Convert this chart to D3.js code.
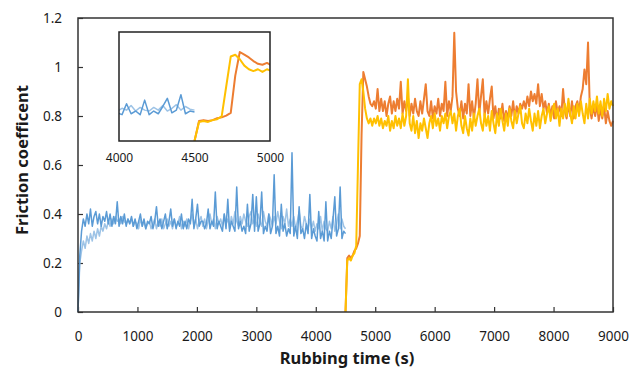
<!DOCTYPE html>
<html>
<head>
<meta charset="utf-8">
<script src="https://cdn.jsdelivr.net/npm/d3@7"></script>
<style>
  body { margin: 0; background: #fff; }
  svg text { font-family: "Noto Sans", "Open Sans", sans-serif; fill: #1a1a1a; }
</style>
</head>
<body>
<div id="chart"></div>
<script>
// sampling: one reading every 30 s
const step = 30;
const xTicks = [0, 1000, 2000, 3000, 4000, 5000, 6000, 7000, 8000, 9000];
const yTicks = [0, 0.2, 0.4, 0.6, 0.8, 1, 1.2];
const insetTicks = [4000, 4500, 5000];

// first test, 0 - 4500 s
const blueDark = [
  0, 0.23, 0.33, 0.38, 0.35, 0.40, 0.36, 0.42, 0.35, 0.39,
  0.41, 0.36, 0.40, 0.35, 0.39, 0.37, 0.41, 0.36, 0.40, 0.35,
  0.39, 0.36, 0.45, 0.35, 0.39, 0.36, 0.40, 0.35, 0.38, 0.36,
  0.39, 0.35, 0.38, 0.34, 0.37, 0.40, 0.35, 0.38, 0.34, 0.37,
  0.36, 0.39, 0.34, 0.37, 0.43, 0.35, 0.38, 0.34, 0.37, 0.40,
  0.34, 0.37, 0.42, 0.35, 0.38, 0.34, 0.37, 0.35, 0.40, 0.34,
  0.37, 0.34, 0.38, 0.36, 0.46, 0.34, 0.38, 0.44, 0.35, 0.37,
  0.37, 0.34, 0.36, 0.42, 0.34, 0.37, 0.35, 0.49, 0.34, 0.37,
  0.35, 0.33, 0.40, 0.34, 0.46, 0.33, 0.37, 0.35, 0.33, 0.51,
  0.34, 0.37, 0.33, 0.35, 0.32, 0.44, 0.33, 0.36, 0.48, 0.33,
  0.47, 0.33, 0.36, 0.49, 0.32, 0.35, 0.33, 0.40, 0.32, 0.35,
  0.56, 0.32, 0.35, 0.31, 0.44, 0.33, 0.36, 0.31, 0.34, 0.32,
  0.65, 0.31, 0.35, 0.30, 0.43, 0.32, 0.34, 0.30, 0.36, 0.32,
  0.48, 0.30, 0.34, 0.31, 0.29, 0.41, 0.30, 0.33, 0.29, 0.45,
  0.29, 0.33, 0.30, 0.38, 0.47, 0.31, 0.34, 0.51, 0.30, 0.33,
  0.32
];
const blueLight = [
  0, 0.20, 0.25, 0.29, 0.26, 0.31, 0.28, 0.32, 0.29, 0.33,
  0.30, 0.34, 0.31, 0.35, 0.33, 0.36, 0.34, 0.37, 0.35, 0.38,
  0.36, 0.39, 0.37, 0.38, 0.36, 0.39, 0.37, 0.36, 0.38, 0.36,
  0.38, 0.35, 0.37, 0.36, 0.34, 0.38, 0.35, 0.37, 0.34, 0.36,
  0.37, 0.34, 0.36, 0.38, 0.34, 0.37, 0.35, 0.38, 0.34, 0.36,
  0.38, 0.35, 0.37, 0.34, 0.38, 0.35, 0.36, 0.39, 0.34, 0.37,
  0.35, 0.38, 0.34, 0.37, 0.40, 0.35, 0.38, 0.34, 0.37, 0.39,
  0.35, 0.38, 0.34, 0.37, 0.40, 0.36, 0.38, 0.34, 0.39, 0.36,
  0.38, 0.35, 0.40, 0.36, 0.38, 0.34, 0.39, 0.36, 0.41, 0.37,
  0.35, 0.39, 0.36, 0.40, 0.37, 0.35, 0.39, 0.41, 0.36, 0.38,
  0.35, 0.40, 0.37, 0.35, 0.41, 0.37, 0.35, 0.40, 0.38, 0.35,
  0.39, 0.36, 0.41, 0.37, 0.34, 0.39, 0.36, 0.42, 0.35, 0.38,
  0.35, 0.39, 0.34, 0.37, 0.41, 0.35, 0.34, 0.39, 0.36, 0.34,
  0.38, 0.34, 0.37, 0.33, 0.36, 0.34, 0.39, 0.33, 0.37, 0.34,
  0.33, 0.37, 0.34, 0.39, 0.33, 0.36, 0.40, 0.34, 0.38, 0.35,
  0.34
];

// second test, 4500 - 9000 s
const orange = [
  0, 0.22, 0.23, 0.22, 0.23, 0.25, 0.26, 0.28, 0.31, 0.72,
  0.98, 0.95, 0.92, 0.88, 0.85, 0.84, 0.86, 0.83, 0.91, 0.82,
  0.87, 0.82, 0.86, 0.80, 0.85, 0.88, 0.81, 0.86, 0.82, 0.87,
  0.83, 0.94, 0.81, 0.86, 0.82, 0.88, 0.80, 0.85, 0.81, 0.87,
  0.82, 0.80, 0.86, 0.81, 0.87, 0.93, 0.82, 0.80, 0.86, 0.79,
  0.84, 0.81, 0.87, 0.80, 0.85, 0.82, 0.94, 0.80, 0.86, 0.82,
  0.88, 1.14, 0.90, 0.83, 0.80, 0.86, 0.79, 0.85, 0.81, 0.93,
  0.80, 0.86, 0.79, 0.85, 0.95, 0.81, 0.88, 0.95, 0.80, 0.86,
  0.81, 0.87, 0.92, 0.79, 0.84, 0.78, 0.83, 0.79, 0.85, 0.78,
  0.82, 0.79, 0.84, 0.80, 0.86, 0.79, 0.84, 0.81, 0.85, 0.83,
  0.86, 0.83, 0.88, 0.84, 0.90, 0.86, 0.89, 0.85, 0.93, 0.84,
  0.89, 0.83, 0.86, 0.81, 0.85, 0.80, 0.84, 0.79, 0.86, 0.81,
  0.84, 0.80, 0.91, 0.82, 0.79, 0.85, 0.80, 0.86, 0.79, 0.84,
  0.86, 0.82, 0.88, 0.91, 0.99, 0.93, 1.10, 0.83, 0.79, 0.84,
  0.80, 0.85, 0.78, 0.83, 0.79, 0.84, 0.77, 0.82, 0.78, 0.76,
  0.78
];
const yellow = [
  0, 0.21, 0.22, 0.21, 0.23, 0.24, 0.27, 0.60, 0.93, 0.95,
  0.90, 0.83, 0.79, 0.77, 0.79, 0.76, 0.79, 0.77, 0.80, 0.76,
  0.79, 0.75, 0.78, 0.76, 0.80, 0.74, 0.78, 0.75, 0.80, 0.76,
  0.79, 0.75, 0.81, 0.76, 0.80, 0.95, 0.77, 0.74, 0.80, 0.73,
  0.78, 0.71, 0.77, 0.74, 0.79, 0.75, 0.71, 0.77, 0.80, 0.75,
  0.81, 0.76, 0.79, 0.74, 0.80, 0.77, 0.81, 0.75, 0.80, 0.82,
  0.77, 0.81, 0.74, 0.80, 0.83, 0.76, 0.73, 0.80, 0.75, 0.72,
  0.79, 0.74, 0.81, 0.76, 0.80, 0.83, 0.77, 0.74, 0.81, 0.76,
  0.80, 0.74, 0.82, 0.77, 0.73, 0.81, 0.76, 0.83, 0.78, 0.74,
  0.81, 0.76, 0.83, 0.78, 0.75, 0.82, 0.77, 0.81, 0.84, 0.77,
  0.75, 0.81, 0.77, 0.83, 0.78, 0.74, 0.81, 0.76, 0.82, 0.75,
  0.80, 0.83, 0.77, 0.81, 0.84, 0.78, 0.82, 0.85, 0.79, 0.83,
  0.76, 0.83, 0.79, 0.85, 0.80, 0.87, 0.81, 0.77, 0.84, 0.79,
  0.85, 0.80, 0.86, 0.81, 0.77, 0.85, 0.79, 0.87, 0.81, 0.86,
  0.82, 0.88, 0.81, 0.86, 0.80, 0.87, 0.82, 0.89, 0.83, 0.86,
  0.84
];

const series = [
  { name: "blueLight", start: 0, values: blueLight, color: "#9dc3e6", width: 1.5 },
  { name: "blueDark", start: 0, values: blueDark, color: "#5b9bd5", width: 1.5 },
  { name: "orange", start: 4500, values: orange, color: "#ed7d31", width: 2 },
  { name: "yellow", start: 4500, values: yellow, color: "#ffc000", width: 2 }
];
series.forEach(s => { s.points = s.values.map((v, i) => [s.start + i * step, v]); });

const W = 641, H = 373;
const svg = d3.select("#chart").append("svg").attr("width", W).attr("height", H);

const x = d3.scaleLinear().domain([0, 9000]).range([78, 613]);
const y = d3.scaleLinear().domain([0, 1.2]).range([312, 18]);

// axes with inside ticks
const xAxis = svg.append("g").attr("transform", "translate(0,312)")
  .call(d3.axisBottom(x).tickValues(xTicks).tickFormat(d3.format("d")).tickSize(-5).tickPadding(19));
const yAxis = svg.append("g").attr("transform", "translate(78,0)")
  .call(d3.axisLeft(y).tickValues(yTicks).tickFormat(d => d3.format("")(d)).tickSize(-5).tickPadding(16));
[xAxis, yAxis].forEach(a => {
  a.select(".domain").remove();
  a.selectAll("line").attr("stroke", "#333").attr("stroke-width", 1.2);
  a.selectAll("text").style("font-size", "13.5px").attr("fill", "#1a1a1a");
});

const line = (sx, sy) => d3.line().x(d => sx(d[0])).y(d => sy(d[1]));

const main = svg.append("g");
series.forEach(s => {
  main.append("path").datum(s.points)
    .attr("d", line(x, y))
    .attr("fill", "none").attr("stroke", s.color)
    .attr("stroke-width", s.width).attr("stroke-linejoin", "round");
});

// plot frame
svg.append("rect").attr("x", 78).attr("y", 18).attr("width", 613 - 78).attr("height", 312 - 18)
  .attr("fill", "none").attr("stroke", "#333").attr("stroke-width", 1.5);

// inset, zoom on 4000 - 5000 s
const ix = d3.scaleLinear().domain([4000, 5000]).range([119, 270]);
const iy = d3.scaleLinear().domain([0, 1.2]).range([141, 32]);

svg.append("clipPath").attr("id", "insetClip").append("rect")
  .attr("x", 119).attr("y", 32).attr("width", 151).attr("height", 109);
svg.append("rect").attr("x", 119).attr("y", 32).attr("width", 151).attr("height", 109)
  .attr("fill", "#fff");
const inset = svg.append("g").attr("clip-path", "url(#insetClip)");
series.forEach(s => {
  inset.append("path").datum(s.points)
    .attr("d", line(ix, iy))
    .attr("fill", "none").attr("stroke", s.color)
    .attr("stroke-width", s.width).attr("stroke-linejoin", "round");
});
svg.append("rect").attr("x", 119).attr("y", 32).attr("width", 151).attr("height", 109)
  .attr("fill", "none").attr("stroke", "#222").attr("stroke-width", 1.5);
const iAxis = svg.append("g").attr("transform", "translate(0,141)")
  .call(d3.axisBottom(ix).tickValues(insetTicks).tickFormat(d3.format("d")).tickSize(0).tickPadding(12));
iAxis.select(".domain").remove();
iAxis.selectAll("text").style("font-size", "12px").attr("fill", "#1a1a1a");

// axis titles
svg.append("text").attr("x", 347).attr("y", 364).attr("text-anchor", "middle")
  .style("font-size", "16.5px").style("font-weight", "bold").text("Rubbing time (s)");
svg.append("text").attr("transform", "translate(28,160) rotate(-90)").attr("text-anchor", "middle")
  .style("font-size", "16.5px").style("font-weight", "bold").text("Friction coefficent");
</script>
</body>
</html>
